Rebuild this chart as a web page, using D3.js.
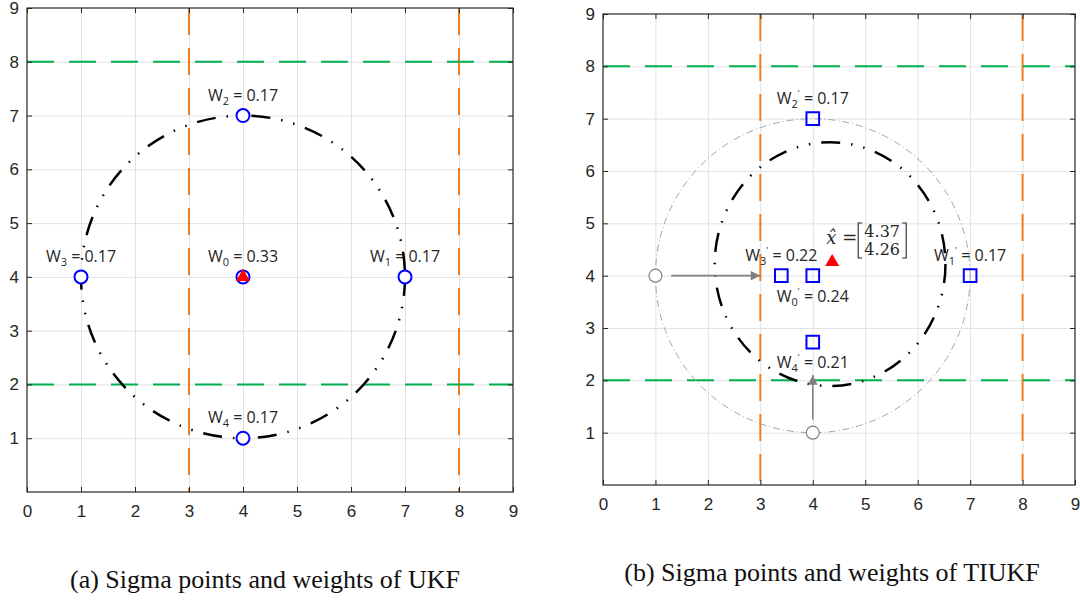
<!DOCTYPE html>
<html>
<head>
<meta charset="utf-8">
<script src="https://cdn.jsdelivr.net/npm/d3@7"></script>
<style>
body { margin: 0; background: #fff; }
svg { display: block; }
text { white-space: pre; }
</style>
</head>
<body>
<svg id="vis" width="1080" height="601"></svg>
<script>
// ticks shared by both panels
var xTicks = [0, 1, 2, 3, 4, 5, 6, 7, 8, 9];
var yTicks = [1, 2, 3, 4, 5, 6, 7, 8, 9];

// dashed bounds
var boundX = [3, 8];
var boundY = [2, 8];

// (a) UKF sigma points
var ukfX = [4, 7, 4, 1, 4];
var ukfY = [4, 4, 7, 4, 1];
var ukfW = [0.33, 0.17, 0.17, 0.17, 0.17];
var ukfMean = [4, 4];
var ukfRadius = [3, 3];
var ukfSide = ['above', 'above', 'above', 'above', 'above'];

// (b) TIUKF sigma points
var tiX = [4, 7, 4, 3.4, 4];
var tiY = [4, 4, 7, 4, 2.73];
var tiW = [0.24, 0.17, 0.17, 0.22, 0.21];
var tiSide = ['below', 'above', 'above', 'above', 'below'];
var tiMean = [4.37, 4.26];
var tiEllipseCenter = [4.33, 4.22];
var tiEllipseRadius = [2.2, 2.33];
// original points that fell outside the bounds, and where they were moved
var cutX = [1, 4];
var cutY = [4, 1];
var arrowStart = [[1.3, 4], [4, 1.25]];
var arrowEnd = [[3, 4], [4, 2.1]];

var svg = d3.select('#vis');
var textColor = '#262626';
var orange = '#EF7E22';
var green = '#00B04F';
var dashDotDot = '19 11 1.5 11 1.5 11';

// arrow head marker
svg.append('defs').append('marker')
    .attr('id', 'head')
    .attr('viewBox', '0 0 10 10')
    .attr('refX', 10).attr('refY', 5)
    .attr('markerWidth', 8).attr('markerHeight', 6)
    .attr('markerUnits', 'strokeWidth')
    .attr('orient', 'auto')
    .append('path')
    .attr('d', 'M0,0 L10,5 L0,10 Z')
    .attr('fill', '#808080');

function drawPanel(box) {
    var x = d3.scaleLinear().domain([0, 9]).range([box.left, box.right]);
    var y = d3.scaleLinear().domain([0, 9]).range([box.bottom, box.top]);
    var h = box.bottom - box.top, w = box.right - box.left;
    var g = svg.append('g');

    //grid
    var grid = g.append('g').attr('class', 'grid');
    grid.append('g')
        .attr('transform', 'translate(0,' + box.bottom + ')')
        .call(d3.axisBottom(x).tickValues(xTicks.slice(1, -1)).tickSize(-h).tickFormat(''));
    grid.append('g')
        .attr('transform', 'translate(' + box.left + ',0)')
        .call(d3.axisLeft(y).tickValues(yTicks.slice(0, -1)).tickSize(-w).tickFormat(''));
    grid.selectAll('.domain').remove();
    grid.selectAll('line').attr('stroke', '#e2e2e2').attr('stroke-width', 1);

    //dashed bounds
    g.selectAll('.bx').data(boundX).enter().append('line')
        .attr('x1', function (d) { return x(d); }).attr('x2', function (d) { return x(d); })
        .attr('y1', box.top).attr('y2', box.bottom)
        .attr('stroke', orange).attr('stroke-width', 2).attr('stroke-dasharray', '27 13');
    g.selectAll('.by').data(boundY).enter().append('line')
        .attr('y1', function (d) { return y(d); }).attr('y2', function (d) { return y(d); })
        .attr('x1', box.left).attr('x2', box.right)
        .attr('stroke', green).attr('stroke-width', 2).attr('stroke-dasharray', '27 15');

    //axes with inward ticks
    var axes = g.append('g');
    axes.append('g').attr('transform', 'translate(0,' + box.bottom + ')')
        .call(d3.axisBottom(x).tickValues(xTicks).tickSizeInner(-5).tickSizeOuter(0).tickPadding(13));
    axes.append('g').attr('transform', 'translate(0,' + box.top + ')')
        .call(d3.axisTop(x).tickValues(xTicks).tickSizeInner(-5).tickSizeOuter(0).tickFormat(''));
    axes.append('g').attr('transform', 'translate(' + box.left + ',0)')
        .call(d3.axisLeft(y).tickValues(yTicks).tickSizeInner(-5).tickSizeOuter(0).tickPadding(8));
    axes.append('g').attr('transform', 'translate(' + box.right + ',0)')
        .call(d3.axisRight(y).tickValues(yTicks).tickSizeInner(-5).tickSizeOuter(0).tickFormat(''));
    axes.selectAll('.domain').remove();
    axes.selectAll('line').attr('stroke', textColor);
    axes.selectAll('text')
        .attr('font-family', '"Liberation Sans", Arial, sans-serif')
        .attr('font-size', 17)
        .attr('fill', textColor);

    g.append('rect')
        .attr('x', box.left).attr('y', box.top)
        .attr('width', w).attr('height', h)
        .attr('fill', 'none').attr('stroke', textColor).attr('stroke-width', 1.2);

    return { g: g, x: x, y: y };
}

function weightLabel(g, px, py, i, wt, prime, side) {
    var t = g.append('text')
        .attr('x', px)
        .attr('y', side === 'above' ? py - 15 : py + 26)
        .attr('text-anchor', 'middle')
        .attr('font-family', '"Open Sans", "Noto Sans", sans-serif')
        .attr('font-size', 16)
        .attr('fill', textColor);
    t.append('tspan').text('W');
    t.append('tspan').attr('font-size', 11).attr('dy', 4).text(i);
    if (prime) {
        t.append('tspan').attr('font-size', 9).attr('dy', -11).text('\'');
        t.append('tspan').attr('dy', 7).text(' = ' + wt.toFixed(2));
    } else {
        t.append('tspan').attr('dy', -4).text(' = ' + wt.toFixed(2));
    }
}

// ---------- panel (a) ----------
var a = drawPanel({ left: 27, right: 513, top: 8, bottom: 492 });

ukfX.forEach(function (d, i) {
    weightLabel(a.g, a.x(d), a.y(ukfY[i]), i, ukfW[i], false, ukfSide[i]);
});

a.g.append('ellipse')
    .attr('cx', a.x(ukfMean[0])).attr('cy', a.y(ukfMean[1]))
    .attr('rx', a.x(ukfMean[0] + ukfRadius[0]) - a.x(ukfMean[0]))
    .attr('ry', a.y(ukfMean[1]) - a.y(ukfMean[1] + ukfRadius[1]))
    .attr('fill', 'none').attr('stroke', '#000').attr('stroke-width', 2.5)
    .attr('stroke-dasharray', dashDotDot);

a.g.selectAll('.pt').data(ukfX).enter().append('circle')
    .attr('cx', function (d) { return a.x(d); })
    .attr('cy', function (d, i) { return a.y(ukfY[i]); })
    .attr('r', 6.5)
    .attr('fill', '#fff').attr('stroke', '#0000FF').attr('stroke-width', 2);

a.g.append('path')
    .attr('d', d3.symbol(d3.symbolTriangle, 85)())
    .attr('transform', 'translate(' + a.x(ukfMean[0]) + ',' + a.y(ukfMean[1]) + ')')
    .attr('fill', '#FF0000');

// ---------- panel (b) ----------
var b = drawPanel({ left: 603, right: 1075, top: 14, bottom: 485 });

b.g.append('ellipse')
    .attr('cx', b.x(4)).attr('cy', b.y(4))
    .attr('rx', b.x(7) - b.x(4)).attr('ry', b.y(4) - b.y(7))
    .attr('fill', 'none').attr('stroke', '#9a9a9a').attr('stroke-width', 0.9)
    .attr('stroke-dasharray', '7 3 1 3');

tiX.forEach(function (d, i) {
    weightLabel(b.g, b.x(d), b.y(tiY[i]), i, tiW[i], true, tiSide[i]);
});

b.g.append('ellipse')
    .attr('cx', b.x(tiEllipseCenter[0])).attr('cy', b.y(tiEllipseCenter[1]))
    .attr('rx', b.x(tiEllipseCenter[0] + tiEllipseRadius[0]) - b.x(tiEllipseCenter[0]))
    .attr('ry', b.y(tiEllipseCenter[1]) - b.y(tiEllipseCenter[1] + tiEllipseRadius[1]))
    .attr('fill', 'none').attr('stroke', '#000').attr('stroke-width', 2.5)
    .attr('stroke-dasharray', dashDotDot);

arrowStart.forEach(function (s, i) {
    b.g.append('line')
        .attr('x1', b.x(s[0])).attr('y1', b.y(s[1]))
        .attr('x2', b.x(arrowEnd[i][0])).attr('y2', b.y(arrowEnd[i][1]))
        .attr('stroke', '#808080').attr('stroke-width', 1.6)
        .attr('marker-end', 'url(#head)');
});

b.g.selectAll('.cut').data(cutX).enter().append('circle')
    .attr('cx', function (d) { return b.x(d); })
    .attr('cy', function (d, i) { return b.y(cutY[i]); })
    .attr('r', 6.5)
    .attr('fill', '#fff').attr('stroke', '#808080').attr('stroke-width', 1.2);

b.g.selectAll('.sq').data(tiX).enter().append('path')
    .attr('d', d3.symbol(d3.symbolSquare, 160)())
    .attr('transform', function (d, i) { return 'translate(' + b.x(d) + ',' + b.y(tiY[i]) + ')'; })
    .attr('fill', 'none').attr('stroke', '#0000FF').attr('stroke-width', 2);

var mx = b.x(tiMean[0]), my = b.y(tiMean[1]);
b.g.append('path')
    .attr('d', d3.symbol(d3.symbolTriangle, 85)())
    .attr('transform', 'translate(' + mx + ',' + my + ')')
    .attr('fill', '#FF0000');

// x-hat annotation
var ann = b.g.append('g')
    .attr('transform', 'translate(' + mx + ',' + my + ')')
    .attr('font-family', '"DejaVu Serif", "Liberation Serif", serif')
    .attr('fill', textColor);
ann.append('text').attr('x', -6).attr('y', -18).attr('font-size', 18)
    .attr('font-style', 'italic').text('x\u0302');
ann.append('text').attr('x', 10).attr('y', -18).attr('font-size', 18).text('=');
ann.append('path')
    .attr('d', 'M30,-39 H26 V-4 H30 M70,-39 H74 V-4 H70')
    .attr('fill', 'none').attr('stroke', textColor).attr('stroke-width', 1.1);
ann.selectAll('.row').data(tiMean).enter().append('text')
    .attr('x', 50)
    .attr('y', function (d, i) { return i === 0 ? -25 : -7; })
    .attr('text-anchor', 'middle')
    .attr('font-size', 16)
    .text(function (d) { return d.toFixed(2); });

// captions
var captions = ['(a) Sigma points and weights of UKF', '(b) Sigma points and weights of TIUKF'];
svg.selectAll('.cap').data(captions).enter().append('text')
    .attr('x', function (d, i) { return i === 0 ? 265 : 832; })
    .attr('y', function (d, i) { return i === 0 ? 588 : 581; })
    .attr('text-anchor', 'middle')
    .attr('font-family', '"Liberation Serif", "Times New Roman", serif')
    .attr('font-size', 26)
    .attr('fill', '#111')
    .text(function (d) { return d; });
</script>
</body>
</html>
